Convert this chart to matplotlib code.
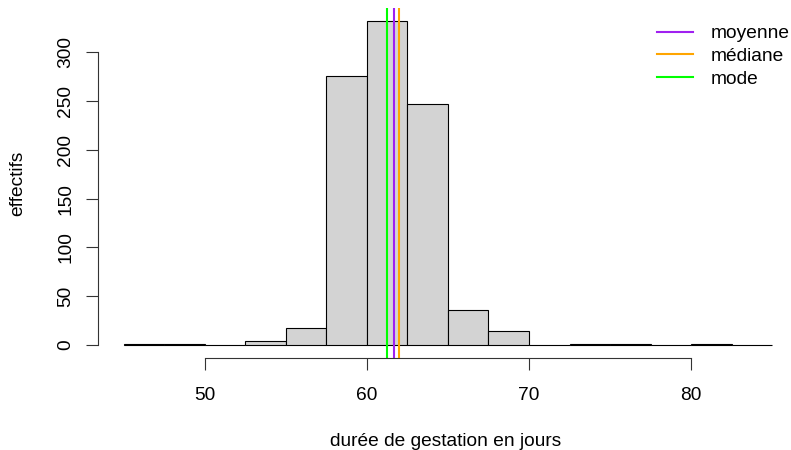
import numpy as np
import matplotlib.pyplot as plt

plt.rcParams['font.family'] = ['Liberation Sans', 'DejaVu Sans']

# classes de 2.5 jours, de 45 a 85
bin_edges = np.arange(45, 85.1, 2.5)
counts = [1, 1, 0, 4, 17, 276, 332, 247, 36, 14, 0, 1, 1, 0, 1, 0]

moyenne = 61.65
mediane = 62.0
mode = 61.25

fs = 13.8
fig = plt.figure(figsize=(7.91, 4.5), dpi=100)
ax = fig.add_axes([98 / 791, 92 / 450, 693 / 791, 350 / 450])

ax.bar(bin_edges[:-1], counts, width=np.diff(bin_edges), align='edge',
       color='#D3D3D3', edgecolor='black', linewidth=0.8)

ax.axvline(moyenne, color='#A020F0', lw=1.5, label='moyenne')
ax.axvline(mediane, color='#FFA500', lw=1.5, label='médiane')
ax.axvline(mode, color='#00FF00', lw=1.5, label='mode')

ax.set_xlim(43.4, 86.17)
ax.set_ylim(-13.3, 345.3)

for s in ['top', 'right']:
    ax.spines[s].set_visible(False)
ax.spines['left'].set_bounds(0, 300)
ax.spines['bottom'].set_bounds(50, 80)
for s in ['left', 'bottom']:
    ax.spines[s].set_linewidth(0.8)
    ax.spines[s].set_color('#333333')

ax.set_xticks([50, 60, 70, 80])
ax.set_yticks(range(0, 301, 50))
ax.tick_params(axis='both', length=8.6, width=0.8, color='#333333', labelsize=fs)
ax.tick_params(axis='x', pad=12)
ax.tick_params(axis='y', pad=8.5)
for lab in ax.get_yticklabels():
    lab.set_rotation(90)
    lab.set_va('center')

fig.text(446 / 791, 1 - 442 / 450, 'durée de gestation en jours', fontsize=fs,
         ha='center', va='center')
fig.text(18 / 791, 1 - 183 / 450, 'effectifs', fontsize=fs, rotation=90,
         ha='center', va='center')

fig.legend(loc='upper left', bbox_to_anchor=(657 / 791, 1 - 25 / 450),
           frameon=False, fontsize=fs, handlelength=1.9, handletextpad=0.9,
           labelspacing=0.27, borderpad=0, borderaxespad=0)

fig.savefig('out.png', dpi=100)
